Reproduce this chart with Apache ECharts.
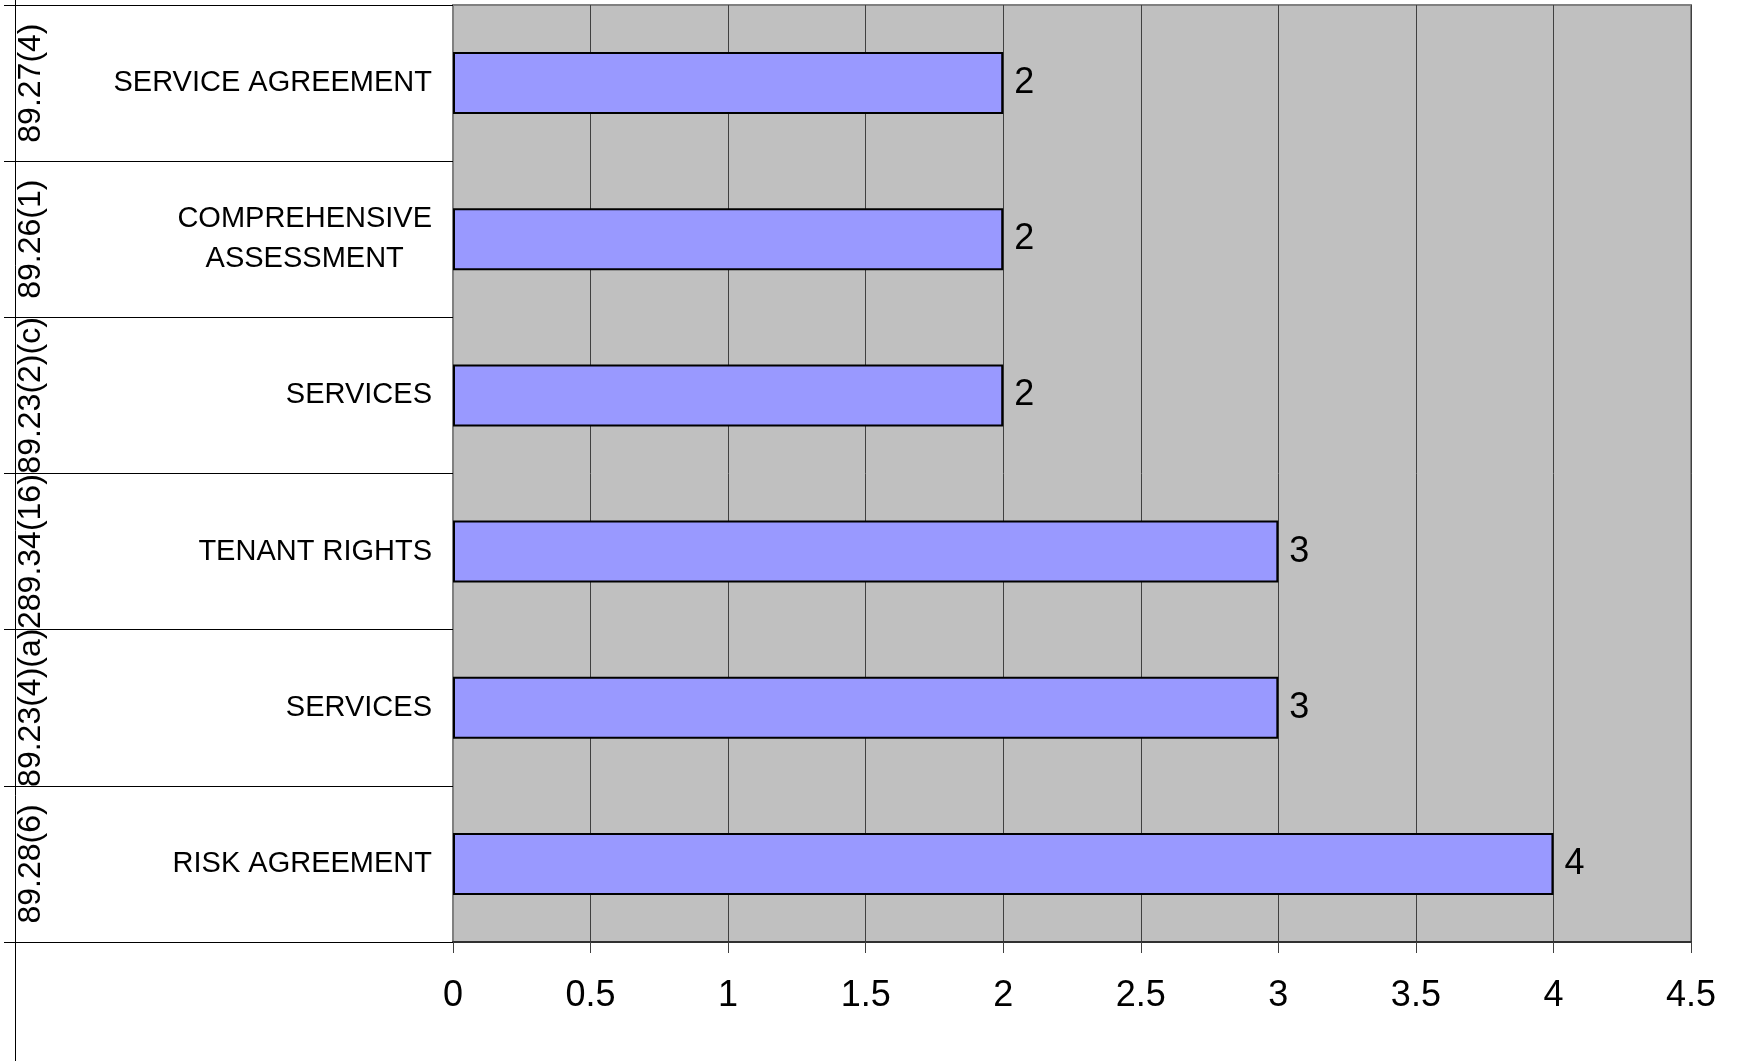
<!DOCTYPE html>
<html>
<head>
<meta charset="utf-8">
<script src="https://cdn.jsdelivr.net/npm/echarts@6/dist/echarts.min.js"></script>
<style>
html,body{margin:0;padding:0;background:#fff;}
#chart{width:1742px;height:1061px;}
</style>
</head>
<body>
<div id="chart"></div>
<script>
// Data (listed top to bottom as shown)
const codes = ['89.27(4)', '89.26(1)', '89.23(2)(c)', '289.34(16)', '89.23(4)(a)', '89.28(6)'];
const topics = ['SERVICE AGREEMENT', 'COMPREHENSIVE\nASSESSMENT', 'SERVICES', 'TENANT RIGHTS', 'SERVICES', 'RISK AGREEMENT'];
const values = [2, 2, 2, 3, 3, 4];
const axisMin = 0;
const axisMax = 4.5;
const tickStep = 0.5;

const FONT = 'Liberation Sans, Arial, sans-serif';
const chart = echarts.init(document.getElementById('chart'), null, {renderer: 'canvas'});

const option = {
  backgroundColor: '#ffffff',
  animation: false,
  grid: {
    left: 453, right: 51, top: 5, bottom: 119,
    show: true, backgroundColor: '#C0C0C0', borderColor: '#808080', borderWidth: 2
  },
  xAxis: {
    type: 'value',
    min: axisMin, max: axisMax, interval: tickStep,
    axisLine: {show: true, lineStyle: {color: '#303030', width: 2}},
    axisTick: {show: true, length: 11, lineStyle: {color: '#404040', width: 1}},
    splitLine: {show: true, lineStyle: {color: '#404040', width: 1}},
    axisLabel: {fontSize: 36, color: '#000', fontFamily: FONT, margin: 36}
  },
  yAxis: [
    {
      type: 'category',
      data: codes,
      inverse: true,
      position: 'left',
      axisLine: {show: true, lineStyle: {color: '#808080', width: 2}},
      axisTick: {show: true, length: 449, interval: 0, alignWithLabel: false, lineStyle: {color: '#000', width: 1}},
      splitLine: {show: false},
      axisLabel: {
        interval: 0,
        margin: 21,
        formatter: function (v, i) {
          return topics[i].split('\n').map(function (s) { return '{c|' + s + '}'; }).join('\n');
        },
        rich: {
          c: {align: 'center', fontSize: 29, fontFamily: FONT, color: '#000', lineHeight: 40}
        }
      }
    },
    {
      type: 'category',
      data: codes,
      inverse: true,
      position: 'left',
      offset: 399,
      axisLine: {show: false},
      axisTick: {show: false},
      splitLine: {show: false},
      axisLabel: {interval: 0, rotate: 90, margin: 7, fontSize: 32, fontFamily: FONT, color: '#000'}
    }
  ],
  series: [{
    type: 'bar',
    yAxisIndex: 0,
    data: values,
    barWidth: 62,
    itemStyle: {color: '#9999FF', borderColor: '#000', borderWidth: 2},
    label: {show: true, position: 'right', distance: 11, fontSize: 36, fontFamily: FONT, color: '#000'}
  }],
  graphic: [{
    type: 'line',
    shape: {x1: 15.5, y1: 0, x2: 15.5, y2: 1061},
    style: {stroke: '#000', lineWidth: 1}
  }]
};
chart.setOption(option);
</script>
</body>
</html>
